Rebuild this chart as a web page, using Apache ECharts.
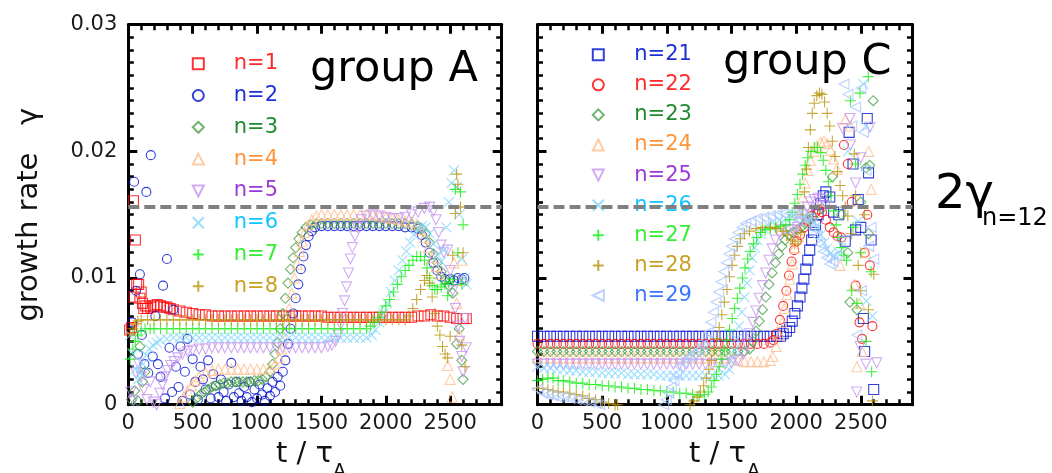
<!DOCTYPE html>
<html><head><meta charset="utf-8">
<script src="https://cdn.jsdelivr.net/npm/echarts@6/dist/echarts.min.js"></script>
<style>html,body{margin:0;padding:0;background:#fff}#c{width:1052px;height:473px}</style>
</head><body><div id="c"></div>
<script>
// ---------- axes / tick labels ----------
const xTicks = [0, 500, 1000, 1500, 2000, 2500];
const xTickLabels = ['0', '500', '1000', '1500', '2000', '2500'];
const yTicks = [0, 10, 20, 30];               // growth rate in units of 1e-3
const yTickLabels = ['0', '0.01', '0.02', '0.03'];
const xRange = [0, 2900];
const yRange = [0, 30];
const twoGammaN12 = 15.6;                      // dashed reference level (x1e-3)

// ---------- group A : [t, gamma x1e-3] ----------
const nA1 = [[10,5.9],[25,6.1],[40,16.1],[45,8.5],[55,13.0],[65,9.5],[80,9.5],[90,8.4],[100,8.9],[110,8.0],[120,7.6],[135,7.8],[150,7.6],[175,7.7],[200,7.8],[225,7.9],[250,7.8],[275,7.7],[300,7.7],[325,7.6],[350,7.5],[400,7.4],[450,7.3],[500,7.2],[550,7.1],[600,7.1],[650,7.0],[700,7.0],[750,7.0],[800,7.0],[850,7.0],[900,7.0],[950,7.0],[1000,7.0],[1050,7.0],[1100,7.0],[1150,7.0],[1200,7.0],[1250,7.0],[1300,7.0],[1350,7.0],[1400,7.0],[1450,7.0],[1500,7.0],[1550,6.9],[1600,6.9],[1650,6.9],[1700,6.9],[1750,6.9],[1800,6.9],[1850,6.9],[1900,6.9],[1950,6.9],[2000,6.9],[2050,6.9],[2100,6.9],[2150,6.9],[2200,6.9],[2250,7.0],[2300,7.0],[2350,7.1],[2400,7.0],[2450,7.0],[2500,6.9],[2550,6.8],[2600,6.8],[2625,6.8]];
const nA2 = [[30,6.5],[45,17.6],[60,9.0],[75,4.0],[90,10.3],[105,5.5],[125,3.2],[140,16.8],[155,2.5],[175,19.7],[190,3.8],[210,7.0],[230,3.2],[250,2.2],[270,9.4],[285,0.5],[300,11.5],[320,4.5],[340,1.0],[350,7.5],[370,3.0],[390,1.4],[405,4.6],[420,0.3],[440,2.6],[460,5.2],[480,0.8],[500,3.6],[520,1.8],[540,0.4],[560,3.0],[580,2.0],[600,1.2],[620,3.5],[640,0.5],[660,2.4],[680,1.5],[700,0.6],[720,2.0],[740,1.0],[760,0.3],[780,1.6],[800,3.3],[820,0.6],[840,1.8],[860,0.9],[880,0.3],[900,1.4],[920,0.6],[940,1.8],[960,0.2],[980,1.2],[1000,0.5],[1020,1.6],[1040,0.8],[1060,0.3],[1080,1.3],[1100,0.7],[1120,1.8],[1140,1.0],[1160,2.2],[1180,1.5],[1200,2.6],[1220,3.5],[1240,4.8],[1260,6.0],[1280,7.2],[1300,8.4],[1320,9.5],[1340,10.7],[1360,11.7],[1380,12.6],[1400,13.3],[1425,13.7],[1450,14.0],[1500,14.1],[1550,14.1],[1600,14.1],[1650,14.1],[1700,14.1],[1750,14.1],[1800,14.1],[1850,14.1],[1900,14.1],[1950,14.1],[2000,14.1],[2050,14.1],[2100,14.1],[2150,14.0],[2200,14.0],[2250,13.9],[2280,13.4],[2310,12.8],[2340,12.0],[2370,11.2],[2400,10.6],[2430,10.1],[2460,9.9],[2500,9.9],[2530,9.8],[2560,10.0],[2590,9.9],[2610,10.0]];
const nA3 = [[25,0.4],[50,1.1],[75,0.3],[90,4.6],[110,1.8],[130,2.6],[500,0.2],[530,0.5],[560,0.8],[590,1.0],[620,1.2],[650,1.4],[680,1.5],[710,1.6],[740,1.7],[770,1.7],[800,1.8],[830,1.8],[860,1.8],[890,1.8],[920,1.8],[950,1.8],[980,1.9],[1010,1.9],[1040,2.0],[1070,2.2],[1100,2.6],[1120,3.2],[1140,4.0],[1160,4.9],[1180,6.0],[1200,7.2],[1220,8.4],[1240,9.6],[1260,10.7],[1280,11.6],[1300,12.4],[1325,13.1],[1350,13.6],[1380,14.0],[1420,14.2],[1460,14.3],[1500,14.3],[1550,14.3],[1600,14.3],[1650,14.3],[1700,14.3],[1750,14.3],[1800,14.3],[1850,14.3],[1900,14.3],[1950,14.3],[2000,14.3],[2050,14.3],[2100,14.3],[2150,14.3],[2200,14.2],[2250,14.1],[2280,13.9],[2310,13.5],[2340,12.8],[2370,11.9],[2400,11.2],[2430,10.5],[2460,9.8],[2490,9.4],[2520,8.8],[2550,4.8],[2570,6.0],[2590,3.5],[2600,2.0]];
const nA4 = [[400,0.1],[430,0.6],[460,1.1],[490,1.5],[520,1.9],[550,2.2],[600,2.5],[650,2.7],[700,2.8],[750,2.8],[800,2.8],[850,2.8],[900,2.8],[950,2.8],[1000,2.8],[1050,2.8],[1100,2.9],[1140,3.2],[1170,3.7],[1190,4.4],[1210,5.3],[1230,6.4],[1250,7.6],[1270,8.8],[1290,10.0],[1310,11.1],[1330,12.1],[1350,12.9],[1370,13.6],[1395,14.2],[1425,14.6],[1460,14.9],[1500,15.0],[1550,15.0],[1600,15.0],[1650,15.0],[1700,15.0],[1750,15.0],[1800,15.0],[1850,15.0],[1900,15.0],[1950,14.9],[2000,14.8],[2050,14.7],[2100,14.6],[2150,14.5],[2200,14.4],[2240,14.2],[2270,13.8],[2300,13.2],[2330,12.4],[2360,11.6],[2390,10.9],[2420,10.3],[2480,3.1],[2500,2.0],[2515,0.6],[2530,11.2],[2550,8.0],[2570,5.5],[2590,11.4],[2600,9.8]];
const nA5 = [[20,1.0],[40,0.3],[60,2.5],[80,3.2],[100,2.2],[120,1.2],[145,0.4],[170,1.8],[195,0.2],[220,0.0],[245,0.9],[265,1.6],[285,2.2],[305,2.7],[330,3.1],[355,3.4],[385,3.7],[420,4.0],[460,4.2],[500,4.3],[550,4.4],[600,4.4],[650,4.5],[700,4.5],[750,4.5],[800,4.5],[850,4.5],[900,4.5],[950,4.5],[1000,4.5],[1050,4.5],[1100,4.5],[1150,4.5],[1200,4.5],[1250,4.5],[1300,4.5],[1350,4.5],[1400,4.5],[1450,4.5],[1500,4.5],[1550,4.6],[1580,4.7],[1610,5.0],[1630,5.5],[1650,6.3],[1665,7.2],[1680,8.2],[1695,9.3],[1710,10.4],[1725,11.5],[1740,12.4],[1760,13.3],[1780,14.0],[1810,14.6],[1850,14.9],[1900,15.0],[1950,14.9],[2000,14.8],[2050,14.7],[2100,14.7],[2150,14.8],[2200,15.0],[2250,15.2],[2300,15.5],[2340,15.6],[2370,15.3],[2390,14.6],[2410,13.6],[2430,12.6],[2450,12.0],[2480,12.2],[2500,10.6],[2520,9.0],[2540,7.6],[2560,6.2],[2575,5.0],[2590,3.8],[2600,2.6],[2615,6.8],[2625,4.5]];
const nA6 = [[15,5.5],[35,4.0],[55,2.8],[75,2.0],[95,2.5],[115,3.2],[140,3.9],[165,4.4],[190,4.7],[220,4.9],[250,5.1],[300,5.2],[350,5.3],[400,5.3],[450,5.3],[500,5.3],[550,5.3],[600,5.3],[650,5.3],[700,5.3],[750,5.3],[800,5.3],[850,5.3],[900,5.3],[950,5.3],[1000,5.3],[1050,5.3],[1100,5.3],[1150,5.3],[1200,5.3],[1250,5.3],[1300,5.3],[1350,5.3],[1400,5.3],[1450,5.3],[1500,5.3],[1550,5.3],[1600,5.3],[1650,5.3],[1700,5.3],[1750,5.3],[1800,5.3],[1850,5.3],[1890,5.5],[1920,5.9],[1950,6.5],[1980,7.2],[2010,8.0],[2040,8.9],[2070,9.8],[2100,10.6],[2130,11.4],[2160,12.1],[2190,12.8],[2220,13.4],[2250,13.9],[2280,14.1],[2310,14.0],[2340,13.5],[2370,12.7],[2400,11.8],[2430,11.3],[2450,12.2],[2470,14.0],[2490,16.0],[2510,17.5],[2530,18.5],[2550,17.2],[2570,15.0],[2590,11.5],[2610,10.0],[2625,9.5]];
const nA7 = [[15,3.6],[35,4.4],[55,5.0],[75,5.5],[100,5.8],[130,6.0],[170,6.0],[200,6.0],[250,6.0],[300,6.0],[350,6.0],[400,6.0],[450,6.0],[500,6.0],[550,6.0],[600,6.0],[650,6.0],[700,6.0],[750,6.0],[800,6.0],[850,6.0],[900,6.0],[950,6.0],[1000,6.0],[1050,6.0],[1100,6.0],[1150,6.0],[1200,6.0],[1250,6.0],[1300,6.0],[1350,6.0],[1400,6.0],[1450,6.0],[1500,6.0],[1550,6.0],[1600,6.0],[1650,6.0],[1700,6.0],[1750,6.0],[1800,6.0],[1850,6.0],[1880,6.2],[1910,6.5],[1940,6.9],[1970,7.3],[2000,7.8],[2030,8.3],[2060,8.9],[2090,9.5],[2120,10.1],[2150,10.6],[2180,11.0],[2210,11.4],[2240,11.7],[2270,11.7],[2300,11.4],[2320,10.8],[2340,10.0],[2360,9.4],[2380,9.1],[2400,9.1],[2430,9.3],[2460,9.5],[2490,9.7],[2520,9.9],[2480,8.6],[2540,17.0],[2580,16.8],[2600,14.2],[2560,12.0],[2590,9.5]];
const nA8 = [[15,5.6],[35,6.0],[55,6.4],[75,6.6],[100,6.7],[150,6.7],[200,6.7],[250,6.7],[300,6.7],[350,6.7],[400,6.7],[450,6.7],[500,6.7],[550,6.7],[600,6.7],[650,6.7],[700,6.7],[750,6.7],[800,6.7],[850,6.7],[900,6.7],[950,6.7],[1000,6.7],[1050,6.7],[1100,6.7],[1150,6.7],[1200,6.7],[1250,6.7],[1300,6.7],[1350,6.7],[1400,6.7],[1450,6.7],[1500,6.7],[1550,6.7],[1600,6.7],[1650,6.7],[1700,6.7],[1750,6.7],[1800,6.7],[1850,6.7],[1900,6.7],[1950,6.7],[2000,6.7],[2050,6.7],[2100,6.7],[2150,6.7],[2180,7.0],[2210,7.6],[2240,8.3],[2270,9.1],[2300,9.8],[2320,10.2],[2340,9.6],[2360,8.5],[2380,7.2],[2400,6.2],[2420,5.5],[2440,4.6],[2460,4.0],[2480,3.7],[2500,5.4],[2520,11.8],[2540,15.1],[2550,18.2],[2560,17.4],[2580,15.6],[2600,12.0],[2615,3.0],[2590,4.7]];

// ---------- group C : [t, gamma x1e-3] ----------
const nC21 = [[0,5.4],[50,5.4],[100,5.4],[150,5.4],[200,5.4],[250,5.4],[300,5.4],[350,5.4],[400,5.4],[450,5.4],[500,5.4],[550,5.4],[600,5.4],[650,5.4],[700,5.4],[750,5.4],[800,5.4],[850,5.4],[900,5.4],[950,5.4],[1000,5.4],[1050,5.4],[1100,5.4],[1150,5.4],[1200,5.4],[1250,5.4],[1300,5.4],[1350,5.4],[1400,5.4],[1450,5.4],[1500,5.4],[1550,5.4],[1600,5.4],[1650,5.4],[1700,5.4],[1750,5.4],[1800,5.4],[1850,5.4],[1880,5.4],[1900,5.6],[1925,5.8],[1950,6.1],[1970,6.6],[1990,7.2],[2010,7.8],[2030,8.5],[2045,9.2],[2060,9.9],[2075,10.7],[2090,11.4],[2105,12.2],[2120,13.0],[2135,13.6],[2150,14.2],[2170,15.0],[2190,15.9],[2210,16.5],[2230,16.8],[2260,16.4],[2290,15.2],[2330,15.0],[2380,12.9],[2410,21.5],[2440,19.0],[2460,13.8],[2480,16.2],[2500,14.0],[2520,6.8],[2530,4.2],[2550,22.6],[2560,18.3],[2580,13.0],[2600,1.2]];
const nC22 = [[0,4.8],[50,4.8],[100,4.8],[150,4.8],[200,4.8],[250,4.8],[300,4.8],[350,4.8],[400,4.8],[450,4.8],[500,4.8],[550,4.8],[600,4.8],[650,4.8],[700,4.8],[750,4.8],[800,4.8],[850,4.8],[900,4.8],[950,4.8],[1000,4.8],[1050,4.8],[1100,4.8],[1150,4.8],[1200,4.8],[1250,4.8],[1300,4.8],[1350,4.8],[1400,4.8],[1450,4.8],[1500,4.8],[1550,4.8],[1600,4.8],[1650,4.8],[1700,4.8],[1750,4.8],[1800,4.9],[1825,5.1],[1850,5.6],[1875,6.7],[1900,7.8],[1925,9.0],[1945,10.2],[1965,11.3],[1985,12.2],[2005,12.9],[2030,13.4],[2060,14.0],[2090,14.5],[2120,14.9],[2150,15.2],[2175,15.4],[2200,15.2],[2230,14.6],[2260,14.0],[2290,13.6],[2320,13.3],[2350,13.2],[2370,20.5],[2400,19.0],[2430,16.0],[2460,9.4],[2490,6.5],[2510,5.2],[2530,12.0],[2550,15.0],[2570,11.0],[2590,6.2]];
const nC23 = [[0,4.2],[50,4.2],[100,4.2],[150,4.2],[200,4.2],[250,4.2],[300,4.2],[350,4.2],[400,4.2],[450,4.2],[500,4.2],[550,4.2],[600,4.2],[650,4.2],[700,4.2],[750,4.2],[800,4.2],[850,4.2],[900,4.2],[950,4.2],[1000,4.2],[1050,4.2],[1100,4.2],[1150,4.2],[1200,4.2],[1250,4.2],[1300,4.2],[1350,4.2],[1400,4.2],[1450,4.2],[1500,4.2],[1550,4.2],[1600,4.2],[1640,4.4],[1665,5.0],[1690,5.8],[1715,6.6],[1740,7.5],[1765,8.5],[1790,9.5],[1815,10.4],[1840,11.2],[1865,11.9],[1890,12.5],[1915,13.0],[1945,13.4],[1975,13.6],[2010,13.8],[2040,14.0],[2070,14.3],[2100,14.6],[2130,14.8],[2200,15.5],[2280,18.0],[2350,15.0],[2400,12.0],[2416,8.1],[2470,7.5],[2500,16.0],[2540,18.7],[2570,18.9],[2560,13.5],[2596,24.0]];
const nC24 = [[0,3.7],[50,3.7],[100,3.7],[150,3.7],[200,3.7],[250,3.7],[300,3.7],[350,3.7],[400,3.7],[450,3.7],[500,3.7],[550,3.7],[600,3.7],[650,3.7],[700,3.7],[750,3.7],[800,3.7],[850,3.7],[900,3.7],[950,3.7],[1000,3.7],[1050,3.7],[1100,3.7],[1150,3.7],[1200,3.7],[1250,3.7],[1300,3.7],[1350,3.7],[1400,3.7],[1450,3.7],[1500,3.7],[1550,3.5],[1600,3.4],[1650,3.4],[1700,3.4],[1750,3.4],[1800,3.5],[1820,3.8],[1845,4.6],[1870,5.5],[1890,6.5],[1910,7.6],[1930,8.7],[1950,9.9],[1970,11.1],[1990,12.4],[2010,13.8],[2030,15.1],[2050,16.4],[2070,17.5],[2090,18.5],[2110,19.3],[2135,20.0],[2160,20.4],[2190,20.7],[2215,20.8],[2240,20.6],[2265,20.1],[2290,19.4],[2315,18.6],[2340,11.0],[2380,22.5],[2420,22.0],[2450,9.5],[2470,3.0],[2490,8.0],[2510,4.2],[2540,12.0],[2560,20.0],[2580,17.0]];
const nC25 = [[0,3.2],[50,3.2],[100,3.2],[150,3.2],[200,3.2],[250,3.2],[300,3.2],[350,3.2],[400,3.2],[450,3.2],[500,3.2],[550,3.2],[600,3.2],[650,3.2],[700,3.2],[750,3.2],[800,3.2],[850,3.2],[900,3.2],[950,3.2],[1000,3.2],[1050,3.2],[1100,3.2],[1150,3.2],[1200,3.2],[1250,3.2],[1300,3.2],[1350,3.2],[1400,3.2],[1450,3.2],[1500,3.3],[1550,3.5],[1590,4.0],[1615,4.8],[1640,5.6],[1665,6.5],[1690,7.4],[1715,8.4],[1740,9.4],[1765,10.4],[1790,11.4],[1815,12.3],[1840,13.0],[1870,13.5],[1900,13.8],[1940,13.8],[1980,13.8],[2010,14.0],[2035,14.4],[2060,15.0],[2085,15.6],[2110,16.0],[2140,16.2],[2170,16.3],[2200,16.2],[2230,15.7],[2360,21.8],[2420,20.5],[2460,17.5],[2500,19.5],[2469,1.0],[2495,4.6],[2540,3.2],[2623,3.3],[2571,21.9],[2417,22.6]];
const nC26 = [[0,3.0],[50,2.9],[100,2.9],[150,2.8],[200,2.8],[250,2.7],[300,2.7],[350,2.6],[400,2.6],[450,2.6],[500,2.5],[550,2.5],[600,2.5],[650,2.5],[700,2.4],[750,2.4],[800,2.4],[850,2.4],[900,2.4],[950,2.3],[1000,2.3],[1050,2.3],[1100,2.3],[1150,2.3],[1200,2.3],[1250,2.3],[1300,2.3],[1350,2.3],[1400,2.3],[1450,2.4],[1480,2.8],[1500,3.5],[1520,4.3],[1540,5.2],[1560,6.2],[1580,7.3],[1600,8.5],[1620,9.6],[1640,10.6],[1660,11.6],[1680,12.4],[1700,13.0],[1725,13.5],[1750,13.9],[1780,14.2],[1820,14.4],[1870,14.6],[1920,14.7],[1970,14.8],[2020,14.8],[2070,14.8],[2110,14.7],[2140,14.4],[2165,14.0],[2190,13.4],[2215,12.8],[2240,12.3],[2265,11.9],[2290,11.7],[2330,12.0],[2400,20.0],[2480,14.5],[2520,25.3],[2540,22.0],[2544,8.2],[2590,7.0]];
const nC27 = [[0,1.9],[40,2.0],[80,2.1],[120,2.1],[160,1.9],[200,1.9],[250,1.8],[300,1.7],[350,1.7],[400,1.6],[450,1.6],[500,1.5],[550,1.5],[600,1.4],[650,1.4],[700,1.3],[750,1.3],[800,1.2],[850,1.2],[900,1.1],[950,1.1],[1000,1.0],[1050,1.0],[1100,0.9],[1150,0.9],[1200,0.8],[1250,0.7],[1290,0.8],[1320,1.0],[1345,1.4],[1365,1.9],[1385,2.4],[1405,3.0],[1425,3.6],[1445,4.3],[1465,5.1],[1485,5.9],[1505,6.8],[1525,7.6],[1545,8.4],[1565,9.2],[1585,10.0],[1605,10.8],[1625,11.5],[1645,12.1],[1670,12.7],[1695,13.2],[1725,13.6],[1760,13.8],[1800,13.9],[1840,14.0],[1880,14.1],[1920,14.2],[1950,14.6],[1970,15.2],[1990,15.9],[2010,16.6],[2030,17.4],[2050,18.2],[2070,18.9],[2090,19.5],[2115,20.0],[2140,20.3],[2165,20.3],[2190,19.9],[2210,19.3],[2230,18.5],[2250,17.6],[2270,16.5],[2290,15.3],[2310,14.2],[2330,13.2],[2350,12.4],[2370,11.8],[2390,11.4],[2430,9.0],[2470,8.0],[2420,24.0],[2494,24.6],[2500,12.0],[2558,25.9],[2540,5.0],[2584,2.6],[2580,10.5],[2460,19.0],[2440,14.0]];
const nC28 = [[0,1.3],[40,1.3],[80,1.2],[120,1.1],[160,1.0],[200,1.0],[250,0.9],[300,0.8],[350,0.7],[400,0.5],[450,0.4],[500,0.2],[550,0.1],[600,0.0],[620,0.0],[1180,0.0],[1210,0.3],[1235,0.6],[1260,1.0],[1285,1.5],[1305,2.1],[1325,2.8],[1345,3.5],[1365,4.3],[1385,5.2],[1405,6.1],[1425,7.1],[1445,8.1],[1465,9.1],[1485,10.1],[1505,11.0],[1525,11.8],[1545,12.5],[1570,13.1],[1600,13.5],[1640,13.7],[1690,13.9],[1740,14.0],[1800,14.0],[1850,13.9],[1900,13.7],[1930,13.4],[1960,13.0],[1990,12.7],[2015,12.9],[2035,13.6],[2050,15.0],[2065,16.8],[2080,18.6],[2095,20.3],[2110,21.7],[2125,23.0],[2140,23.8],[2160,24.4],[2180,24.6],[2200,24.5],[2220,23.9],[2240,23.0],[2260,22.0],[2280,20.8],[2300,19.6],[2320,18.4],[2340,17.3],[2360,16.5],[2380,15.6],[2400,14.9],[2430,13.5],[2450,19.8],[2460,16.5],[2480,11.0],[2500,9.0],[2530,15.0],[2560,7.5],[2600,10.3],[2590,0.3]];
const nC29 = [[0,1.2],[40,0.9],[80,0.8],[120,0.7],[160,0.6],[200,0.6],[250,0.5],[300,0.4],[350,0.3],[400,0.2],[450,0.1],[480,0.0],[975,0.0],[995,0.4],[1015,0.9],[1035,1.4],[1055,1.9],[1075,2.4],[1100,3.0],[1125,3.3],[1150,3.6],[1175,3.8],[1200,4.0],[1225,4.2],[1250,4.4],[1275,4.7],[1300,5.1],[1320,5.7],[1340,6.5],[1360,7.3],[1380,8.1],[1400,8.9],[1420,9.7],[1440,10.5],[1460,11.2],[1480,11.9],[1500,12.5],[1525,13.1],[1550,13.6],[1580,14.0],[1610,14.3],[1650,14.5],[1700,14.7],[1750,14.8],[1800,14.9],[1850,15.0],[1900,15.1],[1950,15.1],[2000,15.1],[2040,15.0],[2080,14.8],[2110,14.4],[2135,13.9],[2160,13.3],[2185,12.7],[2210,12.1],[2235,11.6],[2260,11.1],[2285,11.3],[2310,11.8],[2340,13.0],[2370,25.3],[2400,24.5],[2430,22.0],[2460,23.5],[2500,25.0],[2520,21.5],[2540,18.5],[2560,12.5],[2580,14.0],[2470,5.5],[2505,9.0],[2600,11.5]];

const namesA = ['n=1','n=2','n=3','n=4','n=5','n=6','n=7','n=8'];
const valuesA = [nA1, nA2, nA3, nA4, nA5, nA6, nA7, nA8];
const namesC = ['n=21','n=22','n=23','n=24','n=25','n=26','n=27','n=28','n=29'];
const valuesC = [nC21, nC22, nC23, nC24, nC25, nC26, nC27, nC28, nC29];

// ---------- styles (kept apart from data) ----------
const FONT = 'DejaVu Sans';
const P_X = 'path://M0,0L10,10M10,0L0,10';
const P_PLUS = 'path://M5,0L5,10M0,5L10,5';
const P_DOWN = 'path://M0,0L10,0L5,10Z';
const P_LEFT = 'path://M10,0L10,10L0,5Z';
const styleA = [
  {sym:'rect', size:10, mark:'#ff0000', text:'#ff2b2b'},
  {sym:'circle', size:9, mark:'#0010d0', text:'#1f2fd6'},
  {sym:'diamond', size:10, mark:'#4aa04a', text:'#1f8a2e'},
  {sym:'triangle', size:10, mark:'#ffbf90', text:'#ff9438'},
  {sym:P_DOWN, size:10, mark:'#c596ee', text:'#9c38d8'},
  {sym:P_X, size:10, mark:'#7fd6ff', text:'#12c4ff'},
  {sym:P_PLUS, size:11, mark:'#11ee11', text:'#33ee33'},
  {sym:P_PLUS, size:11, mark:'#b8920a', text:'#c9a125'}
];
const styleC = [
  {sym:'rect', size:10, mark:'#0010d0', text:'#1f2fd6'},
  {sym:'circle', size:9, mark:'#ff0000', text:'#ff2b2b'},
  {sym:'diamond', size:10, mark:'#4aa04a', text:'#1f8a2e'},
  {sym:'triangle', size:10, mark:'#ffbf90', text:'#ff9438'},
  {sym:P_DOWN, size:10, mark:'#c596ee', text:'#9c38d8'},
  {sym:P_X, size:10, mark:'#7fd6ff', text:'#12c4ff'},
  {sym:P_PLUS, size:11, mark:'#11ee11', text:'#33ee33'},
  {sym:P_PLUS, size:11, mark:'#b8920a', text:'#c9a125'},
  {sym:P_LEFT, size:10, mark:'#a9c6ff', text:'#3a74ff'}
];

const fmtX = v => { const i = xTicks.indexOf(v); return i < 0 ? '' : xTickLabels[i]; };
const fmtY = v => { const i = yTicks.findIndex(t => Math.abs(t - v) < 1e-9); return i < 0 ? '' : yTickLabels[i]; };

function xAxesFor(gi) {
  const base = {gridIndex: gi, type: 'value', min: xRange[0], max: xRange[1], splitLine: {show: false}};
  const line = {show: true, onZero: false, lineStyle: {color: '#000', width: 3}};
  return [
    Object.assign({}, base, {position: 'bottom', interval: 500, axisLine: line,
      axisTick: {show: true, inside: true, length: 9, lineStyle: {color: '#000', width: 3}},
      axisLabel: {show: true, margin: 8, fontSize: 21, color: '#1a1a1a', fontFamily: FONT, showMaxLabel: false, formatter: fmtX}}),
    Object.assign({}, base, {position: 'bottom', interval: 100, axisLine: {show: false, onZero: false},
      axisTick: {show: true, inside: true, length: 5.5, lineStyle: {color: '#000', width: 2.5}}, axisLabel: {show: false}}),
    Object.assign({}, base, {position: 'top', interval: 500, axisLine: line,
      axisTick: {show: true, inside: true, length: 9, lineStyle: {color: '#000', width: 3}}, axisLabel: {show: false}}),
    Object.assign({}, base, {position: 'top', interval: 100, axisLine: {show: false, onZero: false},
      axisTick: {show: true, inside: true, length: 5.5, lineStyle: {color: '#000', width: 2.5}}, axisLabel: {show: false}})
  ];
}
function yAxesFor(gi) {
  const mk = (pos, labels) => ({
    gridIndex: gi, type: 'value', position: pos, min: yRange[0], max: yRange[1], interval: 10,
    axisLine: {show: true, onZero: false, lineStyle: {color: '#000', width: 3}},
    axisTick: {show: true, inside: true, length: 9, lineStyle: {color: '#000', width: 3}},
    minorTick: {show: true, splitNumber: 10, length: 5.5, lineStyle: {color: '#000', width: 2.5}},
    splitLine: {show: false}, minorSplitLine: {show: false},
    axisLabel: {show: labels, margin: 11, fontSize: 21, color: '#1a1a1a', fontFamily: FONT, formatter: fmtY, padding: [0, 0, 10, 0]},
    name: labels ? 'growth rate   γ' : '', nameLocation: 'middle', nameGap: 84,
    nameTextStyle: {fontSize: 29, color: '#111', fontFamily: FONT}
  });
  return [mk('left', gi === 0), mk('right', false)];
}

function seriesFor(names, values, styles, gi) {
  return names.map((n, i) => ({
    type: 'scatter', name: n, xAxisIndex: gi * 4, yAxisIndex: gi * 2,
    data: values[i], symbol: styles[i].sym, symbolSize: styles[i].size,
    itemStyle: {color: 'rgba(0,0,0,0)', borderColor: styles[i].mark, borderWidth: 1.1},
    emphasis: {disabled: true}, z: 2 + i * 0.01
  }));
}
function refLine(gi) {
  return {type: 'line', name: '2γ(n=12)', xAxisIndex: gi * 4, yAxisIndex: gi * 2, data: [], z: 6, silent: true,
    markLine: {silent: true, symbol: 'none', animation: false, label: {show: false},
      lineStyle: {color: '#808080', width: 4, type: [11, 5]}, data: [{yAxis: twoGammaN12}]}};
}
function legendFor(names, styles, left, top, gap, pad) {
  return {orient: 'vertical', left: left, top: top, padding: 0, itemGap: gap, itemWidth: 11, itemHeight: 11,
    selectedMode: false,
    textStyle: {fontSize: 21, fontFamily: FONT, lineHeight: 22, padding: [0, 0, 0, pad]},
    data: names.map((n, i) => ({name: n, textStyle: {color: styles[i].text}}))};
}

const chart = echarts.init(document.getElementById('c'), null, {renderer: 'canvas'});
chart.setOption({
  animation: false,
  backgroundColor: '#fff',
  grid: [
    {left: 128.3, top: 24.7, width: 373.4, height: 380},
    {left: 537.5, top: 24.7, width: 375, height: 380}
  ],
  xAxis: xAxesFor(0).concat(xAxesFor(1)),
  yAxis: yAxesFor(0).concat(yAxesFor(1)),
  legend: [
    legendFor(namesA, styleA, 191.8, 52.7, 9.8, 25),
    legendFor(namesC, styleC, 591.8, 43.7, 8.1, 25.5)
  ],
  series: seriesFor(namesA, valuesA, styleA, 0).concat([refLine(0)], seriesFor(namesC, valuesC, styleC, 1), [refLine(1)]),
  graphic: [
    {type: 'text', x: 310, y: 70, style: {text: 'group A', font: '43px "DejaVu Sans"', fill: '#000', align: 'left', verticalAlign: 'middle'}},
    {type: 'text', x: 723, y: 63, style: {text: 'group C', font: '43px "DejaVu Sans"', fill: '#000', align: 'left', verticalAlign: 'middle'}},
    {type: 'text', x: 935, y: 196, style: {text: '2γ', font: '48px "DejaVu Sans"', fill: '#000', align: 'left', verticalAlign: 'middle'}},
    {type: 'text', x: 982, y: 219, style: {text: 'n=12', font: '24px "DejaVu Sans"', fill: '#000', align: 'left', verticalAlign: 'middle'}},
    {type: 'text', x: 276, y: 454, style: {text: 't / τ', font: '29px "DejaVu Sans"', fill: '#111', align: 'left', verticalAlign: 'middle'}},
    {type: 'text', x: 333, y: 472, style: {text: 'A', font: '19px "DejaVu Sans"', fill: '#111', align: 'left', verticalAlign: 'middle'}},
    {type: 'text', x: 689, y: 454, style: {text: 't / τ', font: '29px "DejaVu Sans"', fill: '#111', align: 'left', verticalAlign: 'middle'}},
    {type: 'text', x: 747, y: 472, style: {text: 'A', font: '19px "DejaVu Sans"', fill: '#111', align: 'left', verticalAlign: 'middle'}}
  ]
});
</script>
</body></html>
